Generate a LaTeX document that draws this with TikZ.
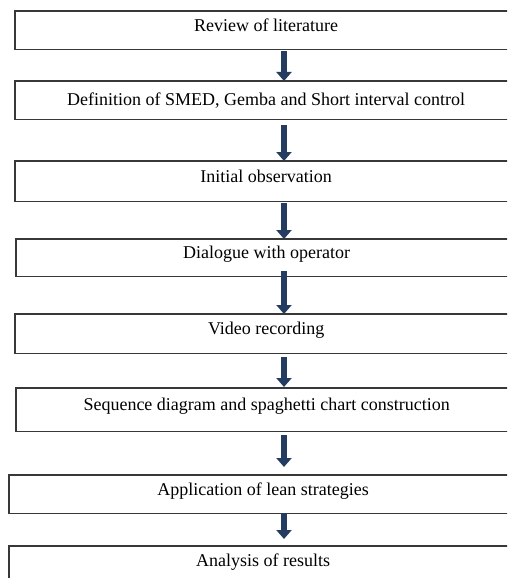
\documentclass[tikz,border=0pt]{standalone}
\usepackage{fontspec}
\setmainfont{Liberation Serif}
\usetikzlibrary{arrows.meta}
\definecolor{arrowblue}{RGB}{36,60,96}

\begin{document}
\begin{tikzpicture}
    [x=1pt,y=-1pt,
    stepbox/.style={rectangle, anchor=north west,
        minimum width=502pt, inner sep=0pt, text height=12pt, text depth=10pt,
        font=\fontsize{18}{21}\selectfont},
    boxline/.style={draw=black!78, line width=1.4pt},
    flow/.style={arrowblue, line width=6.5pt, -{Triangle[width=15pt,length=9pt]}}]
    \useasboundingbox (0,0) rectangle (507,578);
    \clip (0,0) rectangle (507,578);
    \node [stepbox, minimum height=38pt] (b1) at (15,11) {Review of literature};
    \node [stepbox, minimum height=38pt, text depth=2pt] (b2) at (15,81) {Definition of SMED, Gemba and Short interval control};
    \node [stepbox, minimum height=40pt] (b3) at (15,161) {Initial observation};
    \node [stepbox, minimum height=37pt, minimum width=501pt] (b4) at (16,239) {Dialogue with operator};
    \node [stepbox, minimum height=39pt] (b5) at (15,314) {Video recording};
    \node [stepbox, minimum height=43pt, minimum width=501pt] (b6) at (16,388) {Sequence diagram and spaghetti chart construction};
    \node [stepbox, minimum height=38pt, minimum width=508pt] (b7) at (9,475) {Application of lean strategies};
    \node [stepbox, minimum height=38pt, minimum width=508pt] (b8) at (9,546) {Analysis of results};
    % boxes run past the right edge
    \foreach \b in {b1,b2,b3,b4,b5,b6,b7,b8}
        \draw [boxline] (\b.north west) rectangle ([xshift=25pt]\b.south east);
    \coordinate (ax) at (284,0);
    \draw [flow, shorten <=2pt] (b1.south -| ax) -- (b2.north -| ax);
    \draw [flow, shorten <=6pt] (b2.south -| ax) -- (b3.north -| ax);
    \draw [flow, shorten <=2pt] (b3.south -| ax) -- (b4.north -| ax);
    \draw [flow, shorten <=-5pt] (b4.south -| ax) -- (b5.north -| ax);
    \draw [flow, shorten <=4pt, shorten >=1pt] (b5.south -| ax) -- (b6.north -| ax);
    \draw [flow, shorten <=4pt, shorten >=8pt] (b6.south -| ax) -- (b7.north -| ax);
    \draw [flow, shorten >=7pt] (b7.south -| ax) -- (b8.north -| ax);
\end{tikzpicture}
\end{document}
